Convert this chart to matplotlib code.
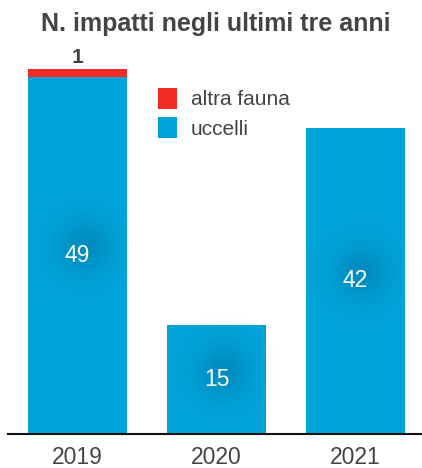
import matplotlib.pyplot as plt
import numpy as np

# dati
anni = ['2019', '2020', '2021']
uccelli = [49, 15, 42]
altra_fauna = [1, 0, 0]

blu = '#00a3d9'
rosso = '#f42a24'
grigio = '#444444'

plt.rcParams['font.family'] = ['Liberation Sans', 'DejaVu Sans']

fig = plt.figure(figsize=(4.22, 4.68), dpi=100)
ax = fig.add_axes([8 / 422, 34 / 468, 413 / 422, 374 / 468])

x = np.arange(len(anni))
ax.bar(x, uccelli, width=0.71, color=blu, label='uccelli', zorder=1)
ax.bar(x, altra_fauna, bottom=uccelli, width=0.71, color=rosso,
       label='altra fauna', zorder=1)

# alone scuro e sfumato dietro le etichette (gradiente radiale)
n = 101
g = np.linspace(-1, 1, n)
xx, yy = np.meshgrid(g, g)
alone = np.zeros((n, n, 4))
alone[..., :3] = np.array([0, 85, 125]) / 255
alone[..., 3] = 0.30 * np.exp(-(xx ** 2 + yy ** 2) / (2 * 0.32 ** 2))
dx = 60 / 139
dy = 60 / 7.29
ox = 6 / 139
oy = 8 / 7.29

for i, v in enumerate(uccelli):
    cx, cy = x[i] + ox, v / 2 + oy
    ax.imshow(alone, extent=(cx - dx, cx + dx, cy - dy, cy + dy),
              aspect='auto', zorder=2, interpolation='bilinear')
    ax.text(x[i], v / 2, str(v), ha='center', va='center', color='white',
            fontsize=16.5, zorder=3)

for i, v in enumerate(altra_fauna):
    if v > 0:
        ax.text(x[i], uccelli[i] + v + 0.3, str(v), ha='center', va='bottom',
                color=grigio, fontsize=15, fontweight='bold')

ax.set_xlim(-0.5, 2.471)
ax.set_ylim(0, 51.3)

handles, labels = ax.get_legend_handles_labels()
ax.legend(handles[::-1], labels[::-1], loc='upper left',
          bbox_to_anchor=(0.318, 0.975), frameon=False, fontsize=15,
          handlelength=0.92, handleheight=1.15, handletextpad=0.65,
          labelspacing=0.38, labelcolor=grigio)

ax.set_xticks(x)
ax.set_xticklabels(anni, fontsize=16.5, color=grigio)
ax.tick_params(axis='x', length=0, pad=9)
ax.set_yticks([])
for s in ['top', 'right', 'left']:
    ax.spines[s].set_visible(False)
ax.spines['bottom'].set_linewidth(1.5)
ax.spines['bottom'].set_color('#111111')

fig.text(0.512, 0.975, 'N. impatti negli ultimi tre anni', ha='center', va='top',
         fontsize=18, fontweight='bold', color=grigio)

fig.savefig('out.png', dpi=100)
